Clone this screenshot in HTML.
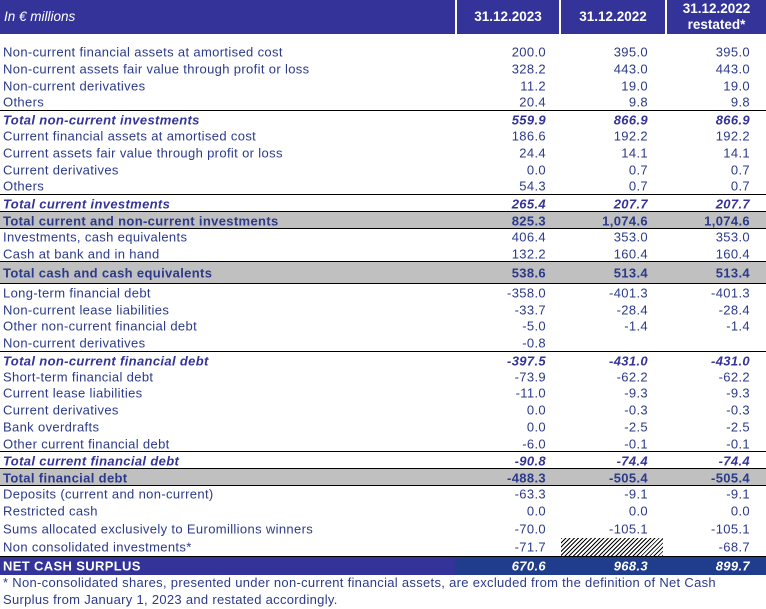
<!DOCTYPE html>
<html><head><meta charset="utf-8">
<style>
body{margin:0;width:766px;height:609px;background:#fff;position:relative;overflow:hidden;font-family:"Liberation Sans",sans-serif;color:#2b3a8a;}
.hd{position:absolute;top:0;height:34px;background:#333399;color:#fff;font-size:13.5px;font-weight:bold;display:flex;align-items:center;justify-content:center;text-align:center;line-height:16px;}
.row{position:absolute;left:0;width:766px;font-size:13px;letter-spacing:.35px;}
.row span{position:absolute;top:50%;transform:translateY(-50%);white-space:nowrap;}
.lab{left:3px}
.v1{right:220px}.v2{right:118px}.v3{right:16px}
.tot{font-weight:bold;font-style:italic;color:#333399}
.grey{background:#c0c0c0;font-weight:bold}
.line{border-top:1.5px solid #000}
.net{color:#fff;font-weight:bold}
.foot{position:absolute;left:3px;top:574px;font-size:13px;letter-spacing:.3px;line-height:17px;color:#2b3a8a;width:760px}
</style></head><body>
<div class="hd" style="left:0;width:455px;justify-content:flex-start;padding-left:4px;box-sizing:border-box;font-weight:normal;font-style:italic">In € millions</div>
<div class="hd" style="left:457px;width:102px">31.12.2023</div>
<div class="hd" style="left:561px;width:104px">31.12.2022</div>
<div class="hd" style="left:667px;width:99px">31.12.2022<br>restated*</div>
<div id="rows"></div>
<div style="position:absolute;left:561px;top:538px;width:102px;height:18px;background:repeating-linear-gradient(135deg,#000 0 1px,#fff 1px 3px)"></div>
<div class="foot">* Non-consolidated shares, presented under non-current financial assets, are excluded from the definition of Net Cash Surplus from January 1, 2023 and restated accordingly.</div>
<script>
const labels=["Non-current financial assets at amortised cost","Non-current assets fair value through profit or loss","Non-current derivatives","Others","Total non-current investments","Current financial assets at amortised cost","Current assets fair value through profit or loss","Current derivatives","Others","Total current investments","Total current and non-current investments","Investments, cash equivalents","Cash at bank and in hand","Total cash and cash equivalents","Long-term financial debt","Non-current lease liabilities","Other non-current financial debt","Non-current derivatives","Total non-current financial debt","Short-term financial debt","Current lease liabilities","Current derivatives","Bank overdrafts","Other current financial debt","Total current financial debt","Total financial debt","Deposits  (current and non-current)","Restricted cash","Sums allocated exclusively to Euromillions winners","Non consolidated investments*","NET CASH SURPLUS"];
const v2023=["200.0","328.2","11.2","20.4","559.9","186.6","24.4","0.0","54.3","265.4","825.3","406.4","132.2","538.6","-358.0","-33.7","-5.0","-0.8","-397.5","-73.9","-11.0","0.0","0.0","-6.0","-90.8","-488.3","-63.3","0.0","-70.0","-71.7","670.6"];
const v2022=["395.0","443.0","19.0","9.8","866.9","192.2","14.1","0.7","0.7","207.7","1,074.6","353.0","160.4","513.4","-401.3","-28.4","-1.4","","-431.0","-62.2","-9.3","-0.3","-2.5","-0.1","-74.4","-505.4","-9.1","0.0","-105.1","","968.3"];
const v2022r=["395.0","443.0","19.0","9.8","866.9","192.2","14.1","0.7","0.7","207.7","1,074.6","353.0","160.4","513.4","-401.3","-28.4","-1.4","","-431.0","-62.2","-9.3","-0.3","-2.5","-0.1","-74.4","-505.4","-9.1","0.0","-105.1","-68.7","899.7"];
const kinds=["n","n","n","n","t","n","n","n","n","t","g","n","n","g2","n","n","n","n","t","n","n","n","n","n","t","g","n","n","n","n","net"];
const tops=[43,60,77,93,110,127,144,161,177,194,211,228,245,261,284,301,317,334,351,368,384,401,418,435,451,468,485,502,520,538,556];
const hs=[17,17,17,17,17,17,17,17,17,17,17,17,17,22,17,17,17,17,17,17,17,17,17,17,17,17,17,17,18,18,18];
const root=document.getElementById('rows');
labels.forEach((l,i)=>{
 const r=document.createElement('div');
 
 
 const k=kinds[i];
 r.className='row'+(k==='t'?' tot line':'')+(k==='g'||k==='g2'?' grey line':'')+(k==='net'?' net line':'');
 r.style.top=tops[i]+'px';r.style.height=hs[i]+'px';
 if(k==='net'){r.style.background='linear-gradient(90deg,#333399 0 455px,#1f3d8c 455px)';r.style.fontStyle='normal';}
 if(k==='g'&&i===25){} 
 const vals=[v2023[i],v2022[i],v2022r[i]];
 let h='<span class="lab">'+l+'</span>';
 ['v1','v2','v3'].forEach((c,j)=>{h+='<span class="'+c+'"'+(k==='net'?' style="font-style:italic"':'')+'>'+vals[j]+'</span>';});
 r.innerHTML=h;
 root.appendChild(r);
});
// bottom borders under grey rows
[228,283].forEach(y=>{const d=document.createElement('div');


d.style.cssText='position:absolute;left:0;width:766px;top:'+y+'px;border-top:1.5px solid #000';root.appendChild(d);});
const d2=document.createElement('div');


d2.style.cssText='position:absolute;left:0;width:766px;top:485px;border-top:1.5px solid #000';root.appendChild(d2);
</script>
</body></html>
